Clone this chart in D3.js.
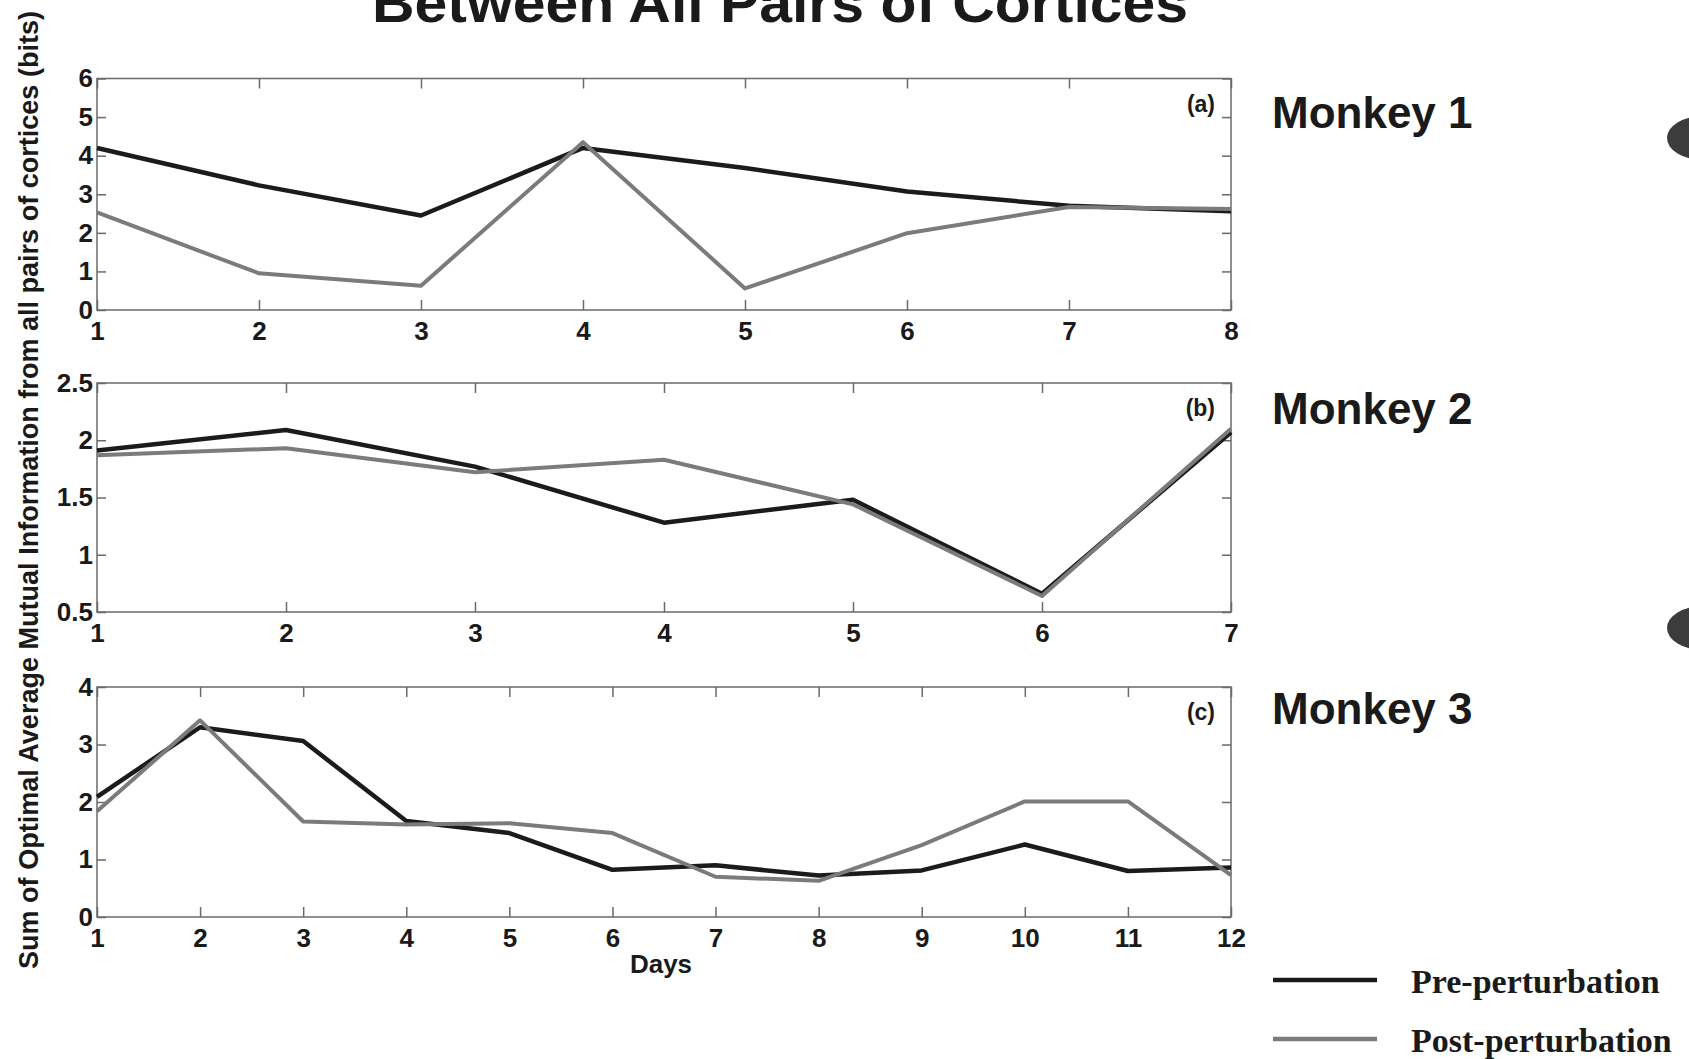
<!DOCTYPE html>
<meta charset="utf-8">
<head>
  <title>Mutual information between cortices</title>
</head>
<style>
  body { margin: 0; background: #fff; }
  svg text { font-family: "Liberation Sans", Arial, sans-serif; font-weight: bold; fill: #1a1a1a; }
</style>
<body>
<div id="my_dataviz"></div>
<script src="https://d3js.org/d3.v7.min.js"></script>
<script>

// data
var daysA = [1, 2, 3, 4, 5, 6, 7, 8];
var preA  = [4.20, 3.23, 2.45, 4.20, 3.68, 3.07, 2.70, 2.56];
var postA = [2.53, 0.95, 0.63, 4.35, 0.56, 1.99, 2.67, 2.62];
var yTicksA = [0, 1, 2, 3, 4, 5, 6];

var daysB = [1, 2, 3, 4, 5, 6, 7];
var preB  = [1.91, 2.09, 1.77, 1.28, 1.48, 0.66, 2.07];
var postB = [1.87, 1.93, 1.72, 1.83, 1.44, 0.64, 2.10];
var yTicksB = [0.5, 1, 1.5, 2, 2.5];

var daysC = [1, 2, 3, 4, 5, 6, 7, 8, 9, 10, 11, 12];
var preC  = [2.09, 3.30, 3.06, 1.67, 1.46, 0.82, 0.90, 0.72, 0.81, 1.26, 0.80, 0.86];
var postC = [1.84, 3.42, 1.66, 1.61, 1.63, 1.46, 0.70, 0.63, 1.25, 2.01, 2.01, 0.73];
var yTicksC = [0, 1, 2, 3, 4];

var panelTags = ["(a)", "(b)", "(c)"];
var monkeyNames = ["Monkey 1", "Monkey 2", "Monkey 3"];
var seriesNames = ["Pre-perturbation", "Post-perturbation"];

var W = 1689, H = 1059;
var left = 97, right = 1231;
var preColor = "#1b1b1b", postColor = "#7b7b7b";

var svg = d3.select("#my_dataviz").append("svg")
  .attr("width", W).attr("height", H);

// title (cut off at the top like the scan)
svg.append("text")
  .attr("x", 780).attr("y", 22)
  .attr("text-anchor", "middle")
  .attr("font-size", 56)
  .attr("textLength", 816).attr("lengthAdjust", "spacingAndGlyphs")
  .text("Between All Pairs of Cortices");

var panels = [
  {days: daysA, pre: preA, post: postA, yTicks: yTicksA, top: 78.5, bottom: 310, monkeyY: 128},
  {days: daysB, pre: preB, post: postB, yTicks: yTicksB, top: 383, bottom: 612, monkeyY: 424},
  {days: daysC, pre: preC, post: postC, yTicks: yTicksC, top: 687, bottom: 917, monkeyY: 724}
];

panels.forEach(function(p, i) {
  var x = d3.scaleLinear()
    .domain(d3.extent(p.days))
    .range([left, right]);
  var y = d3.scaleLinear()
    .domain(d3.extent(p.yTicks))
    .range([p.bottom, p.top]);

  var g = svg.append("g");

  // frame
  g.append("rect")
    .attr("x", left).attr("y", p.top)
    .attr("width", right - left).attr("height", p.bottom - p.top)
    .attr("fill", "none").attr("stroke", "#6a6a6a").attr("stroke-width", 1.5);

  var fmt = function(d) { return String(d); };

  var xb = g.append("g").attr("transform", "translate(0," + p.bottom + ")")
    .call(d3.axisBottom(x).tickValues(p.days).tickFormat(fmt).tickSize(-10).tickPadding(12));
  var xt = g.append("g").attr("transform", "translate(0," + p.top + ")")
    .call(d3.axisTop(x).tickValues(p.days).tickFormat("").tickSize(-10));
  var yl = g.append("g").attr("transform", "translate(" + left + ",0)")
    .call(d3.axisLeft(y).tickValues(p.yTicks).tickFormat(fmt).tickSize(-9).tickPadding(4));
  var yr = g.append("g").attr("transform", "translate(" + right + ",0)")
    .call(d3.axisRight(y).tickValues(p.yTicks).tickFormat("").tickSize(-9));

  [xb, xt, yl, yr].forEach(function(a) {
    a.select(".domain").remove();
    a.selectAll(".tick line").attr("stroke", "#6a6a6a").attr("stroke-width", 1.5);
    a.selectAll(".tick text")
      .attr("font-size", 26)
      .attr("font-family", "Liberation Sans, Arial, sans-serif")
      .attr("font-weight", "bold")
      .attr("fill", "#1a1a1a");
  });

  var line = d3.line()
    .x(function(d, j) { return x(p.days[j]); })
    .y(function(d) { return y(d); });

  g.append("path").datum(p.pre)
    .attr("d", line).attr("fill", "none")
    .attr("stroke", preColor).attr("stroke-width", 4.5)
    .attr("stroke-linejoin", "round");
  g.append("path").datum(p.post)
    .attr("d", line).attr("fill", "none")
    .attr("stroke", postColor).attr("stroke-width", 4)
    .attr("stroke-linejoin", "round");

  // panel tag
  g.append("text")
    .attr("x", right - 16).attr("y", p.top + 33)
    .attr("text-anchor", "end")
    .attr("font-size", 23)
    .text(panelTags[i]);

  // monkey name
  g.append("text")
    .attr("x", 1272).attr("y", p.monkeyY)
    .attr("font-size", 44)
    .attr("fill", "#222")
    .text(monkeyNames[i]);
});

// x axis title
svg.append("text")
  .attr("x", 661).attr("y", 973)
  .attr("text-anchor", "middle")
  .attr("font-size", 26)
  .text("Days");

// y axis title
svg.append("text")
  .attr("transform", "translate(38,490) rotate(-90)")
  .attr("text-anchor", "middle")
  .attr("font-size", 27)
  .attr("textLength", 958).attr("lengthAdjust", "spacingAndGlyphs")
  .text("Sum of Optimal Average Mutual Information from all pairs of cortices (bits)");

// legend
var legend = svg.append("g");
var legColors = [preColor, postColor];
var legY = [980, 1039];
seriesNames.forEach(function(name, i) {
  legend.append("line")
    .attr("x1", 1273).attr("x2", 1377)
    .attr("y1", legY[i]).attr("y2", legY[i])
    .attr("stroke", legColors[i]).attr("stroke-width", 4.5);
  legend.append("text")
    .attr("x", 1411).attr("y", legY[i] + 13)
    .attr("font-family", "Liberation Serif, 'Times New Roman', serif")
    .attr("font-weight", "bold")
    .attr("font-size", 34)
    .attr("fill", "#1a1a1a")
    .style("font-family", "'Liberation Serif', 'Times New Roman', serif")
    .text(name);
});

// scan marks at the right edge (hole punches)
[138, 628].forEach(function(cy) {
  svg.append("ellipse")
    .attr("cx", 1703).attr("cy", cy)
    .attr("rx", 36).attr("ry", 22)
    .attr("fill", "#3c3c3c");
});

</script>
</body>
</html>
